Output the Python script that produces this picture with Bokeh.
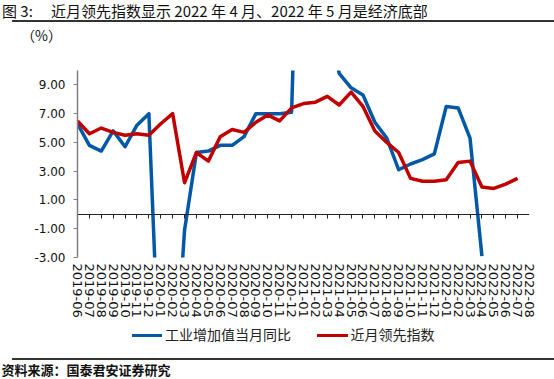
from bokeh.plotting import figure
from bokeh.layouts import column
from bokeh.models import Range1d, FixedTicker, LinearAxis, PrintfTickFormatter, Div
from bokeh.embed import file_html
from bokeh.resources import INLINE

# ---------------- data ----------------
months = ["2019-06", "2019-07", "2019-08", "2019-09", "2019-10", "2019-11", "2019-12",
          "2020-01", "2020-02", "2020-03", "2020-04", "2020-05", "2020-06", "2020-07",
          "2020-08", "2020-09", "2020-10", "2020-11", "2020-12", "2021-01", "2021-02",
          "2021-03", "2021-04", "2021-05", "2021-06", "2021-07", "2021-08", "2021-09",
          "2021-10", "2021-11", "2021-12", "2022-01", "2022-02", "2022-03", "2022-04",
          "2022-05", "2022-06", "2022-07", "2022-08"]

industry_yoy = [6.3, 4.8, 4.4, 5.8, 4.7, 6.2, 7.0, -13.5, -13.5, -1.1, 4.3, 4.4, 4.8, 4.8,
                5.4, 7.0, 7.0, 7.0, 7.1, 35.1, 35.1, 14.1, 9.8, 8.8, 8.3, 6.4, 5.3, 3.1,
                3.5, 3.8, 4.2, 7.5, 7.4, 5.3, -2.9]

leading_index = [6.5, 5.6, 6.0, 5.7, 5.5, 5.6, 5.5, 6.3, 7.0, 2.2, 4.3, 3.7, 5.4, 5.9,
                 5.7, 6.4, 6.9, 6.5, 7.4, 7.7, 7.8, 8.2, 7.6, 8.5, 7.5, 5.8, 5.0, 4.3,
                 2.5, 2.3, 2.3, 2.4, 3.6, 3.7, 1.9, 1.8, 2.1, 2.5]

y_ticks = [-3, -1, 1, 3, 5, 7, 9]

fig_label = "图 3:"
title_text = "近月领先指数显示 2022 年 4 月、2022 年 5 月是经济底部"
unit_text = "（%）"
source_text = "资料来源：国泰君安证券研究"
name_ind = "工业增加值当月同比"
name_lead = "近月领先指数"

BLUE = "#0058A6"
RED = "#C00000"
RULE = "#333333"
CJK = "'Noto Sans CJK SC'"
W = 554
HEAD_H = 45
TOP_B, FRAME_H, BOT_B = 25, 187, 65
MAIN_H = TOP_B + FRAME_H + BOT_B
FOOT_H = 379 - HEAD_H - MAIN_H


def span(text, left, top, size, weight="normal", color="#111111"):
    lh = round(size * 1.45)
    return (f'<span style="position:absolute;left:{left}px;top:{top}px;'
            f'font-family:{CJK};font-size:{size}px;font-weight:{weight};'
            f'line-height:{lh}px;color:{color};white-space:nowrap;">{text}</span>')


def bar(left, top, width, height, color):
    return (f'<span style="position:absolute;display:block;left:{left}px;top:{top}px;'
            f'width:{width}px;height:{height}px;background-color:{color};"></span>')


# ---------------- header ----------------
head_html = (f'<div style="position:relative;width:{W}px;height:{HEAD_H}px;">'
             + span(fig_label, 2, 0, 15)
             + span(title_text, 51, 0, 15)
             + bar(12, 19.5, W - 12, 2, RULE)
             + span(unit_text, 21, 25, 14)
             + '</div>')
head = Div(text=head_html, width=W, height=HEAD_H, margin=0)

# ---------------- main chart ----------------
p = figure(frame_width=452, frame_height=FRAME_H, output_backend="svg",
           toolbar_location=None,
           x_range=Range1d(0, len(months) - 1), y_range=Range1d(-3, 10),
           x_axis_location=None, y_axis_location=None)
p.outline_line_color = None
p.xgrid.visible = False
p.ygrid.visible = False
p.min_border_left = 77
p.min_border_right = 25
p.min_border_top = TOP_B
p.min_border_bottom = BOT_B

yax = LinearAxis(ticker=FixedTicker(ticks=y_ticks),
                 formatter=PrintfTickFormatter(format="%.2f"))
yax.axis_line_color = "#808080"
yax.axis_line_width = 1.5
yax.major_tick_line_color = "#808080"
yax.major_tick_out = 4
yax.major_tick_in = 0
yax.minor_tick_line_color = None
yax.major_label_standoff = 8
yax.major_label_text_font = "DejaVu Sans"
yax.major_label_text_font_size = "12px"
yax.major_label_text_color = "#111111"
p.add_layout(yax, "left")

xlab = LinearAxis(ticker=FixedTicker(ticks=list(range(len(months)))),
                  major_label_overrides={i: m for i, m in enumerate(months)})
xlab.axis_line_color = None
xlab.major_tick_line_color = None
xlab.minor_tick_line_color = None
xlab.major_tick_out = 0
xlab.major_tick_in = 0
xlab.major_label_standoff = 6
xlab.major_label_orientation = "vertical"
xlab.major_label_text_font = "DejaVu Sans"
xlab.major_label_text_font_size = "13px"
xlab.major_label_text_color = "#111111"
p.add_layout(xlab, "below")

xzero = LinearAxis(ticker=FixedTicker(ticks=list(range(len(months) - 1))),
                   fixed_location=0)
xzero.axis_line_color = "#222222"
xzero.axis_line_width = 1.2
xzero.major_tick_line_color = "#222222"
xzero.major_tick_out = 0
xzero.major_tick_in = 4
xzero.minor_tick_line_color = None
xzero.major_label_standoff = 0
xzero.major_label_text_font_size = "0px"
xzero.major_label_text_alpha = 0
p.add_layout(xzero, "above")

x_ind = list(range(len(industry_yoy)))
x_lead = list(range(len(leading_index)))
p.line(x_ind, industry_yoy, line_color=BLUE, line_width=3.5, line_join="round")
p.line(x_lead, leading_index, line_color=RED, line_width=3.5, line_join="round")

# ---------------- footer: legend, rule, source ----------------
leg_c = 335.3 - (HEAD_H + MAIN_H)
foot_html = (f'<div style="position:relative;width:{W}px;height:{FOOT_H}px;">'
             + bar(131.7, leg_c - 1.75, 30, 3.5, BLUE)
             + span(name_ind, 165, leg_c - 10.9, 14, color="#222222")
             + bar(317, leg_c - 1.75, 31, 3.5, RED)
             + span(name_lead, 350.5, leg_c - 10.9, 14, color="#222222")
             + bar(12, 359 - (HEAD_H + MAIN_H) - 1, W - 12, 2, RULE)
             + span(source_text, 1.5, FOOT_H - 19, 13, weight="bold")
             + '</div>')
foot = Div(text=foot_html, width=W, height=FOOT_H, margin=0)

layout = column(head, p, foot, spacing=0)
open("out.html", "w").write(file_html(layout, INLINE))
